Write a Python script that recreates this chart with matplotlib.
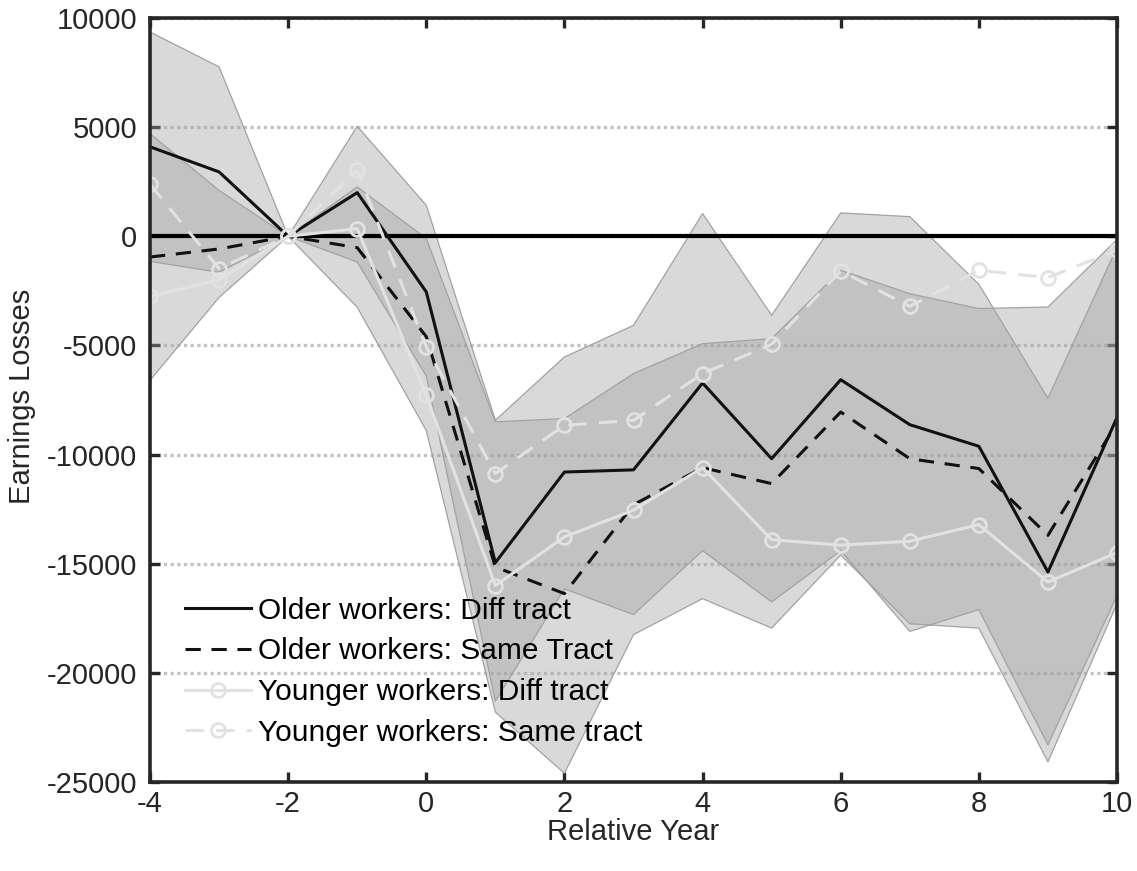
import matplotlib
matplotlib.use("Agg")
import matplotlib.pyplot as plt
import numpy as np

plt.rcParams['font.family'] = ['Liberation Sans', 'DejaVu Sans']

years = [-4, -3, -2, -1, 0, 1, 2, 3, 4, 5, 6, 7, 8, 9, 10]

older_diff = [4100, 2950, 0, 2000, -2550, -14950, -10800, -10700, -6720,
              -10190, -6570, -8630, -9620, -15380, -8300]
older_same = [-950, -580, 0, -520, -4600, -15150, -16370, -12300, -10600,
              -11330, -8050, -10190, -10640, -13700, -8550]
younger_diff = [-2750, -2000, 0, 350, -7280, -16000, -13770, -12550, -10600,
                -13900, -14150, -13970, -13210, -15840, -14490]
younger_same = [2380, -1480, 0, 3020, -5070, -10870, -8660, -8430, -6290,
                -4950, -1590, -3210, -1560, -1890, -640]

# confidence bands
older_diff_hi = [9360, 7760, 0, 5040, 1420, -8430, -5530, -4080, 1040,
                 -3620, 1070, 900, -2200, -7420, -500]
older_diff_lo = [-1150, -1650, 0, -1180, -6400, -21300, -16150, -17330, -14400,
                 -16750, -14400, -18100, -17100, -23300, -16450]
older_same_hi = [4700, 2100, 0, 2260, -100, -8500, -8350, -6290, -4920,
                 -4690, -1560, -2630, -3310, -3240, -150]
older_same_lo = [-6600, -2800, 0, -3250, -8900, -21800, -24600, -18250, -16600,
                 -17950, -14600, -17750, -17950, -24080, -16830]

labels = ["Older workers: Diff tract", "Older workers: Same Tract",
          "Younger workers: Diff tract", "Younger workers: Same tract"]
x_ticks = [-4, -2, 0, 2, 4, 6, 8, 10]
y_ticks = [-25000, -20000, -15000, -10000, -5000, 0, 5000, 10000]

ink = '#262626'
fig = plt.figure(figsize=(11.37, 8.71), dpi=100)
ax = fig.add_axes([150 / 1137, 1 - 782 / 871, 967 / 1137, 764 / 871])

# bands: translucent gray, darker where they overlap
for lo, hi in [(older_diff_lo, older_diff_hi), (older_same_lo, older_same_hi)]:
    ax.fill_between(years, lo, hi, facecolor='#a0a0a0', alpha=0.40,
                    edgecolor='none', zorder=1)
    ax.plot(years, lo, color='#a2a2a2', lw=0.9, zorder=1.5)
    ax.plot(years, hi, color='#a2a2a2', lw=0.9, zorder=1.5)

ax.axhline(0, color='black', lw=3.0, zorder=2)

young_col = '#e2e2e2'
ax.plot(years, older_diff, color='#111111', lw=2.2, label=labels[0], zorder=3)
ax.plot(years, older_same, color='#111111', lw=2.2, dashes=(5, 3.5),
        label=labels[1], zorder=3)
ax.plot(years, younger_diff, color=young_col, lw=2.2, marker='o', ms=10,
        mfc='none', mec=young_col, mew=2.0, label=labels[2], zorder=4)
ax.plot(years, younger_same, color=young_col, lw=2.2, dashes=(6, 4),
        marker='o', ms=10, mfc='none', mec=young_col, mew=2.0,
        label=labels[3], zorder=4)

ax.set_xlim(-4, 10)
ax.set_ylim(-25000, 10000)
ax.set_xticks(x_ticks)
ax.set_yticks(y_ticks)
ax.set_xticklabels([str(v) for v in x_ticks])
ax.set_yticklabels([str(v) for v in y_ticks])

ax.yaxis.grid(True, color='#c4c4c4', lw=2.4, linestyle=(0, (1.0, 1.0)), zorder=0)
ax.set_axisbelow(True)

for s in ax.spines.values():
    s.set_linewidth(2.6)
    s.set_color(ink)
    s.set_zorder(6)
ax.tick_params(direction='in', length=7, width=2.4, color=ink,
               top=True, right=True, labelsize=21, labelcolor=ink)
ax.tick_params(axis='x', pad=6)
ax.tick_params(axis='y', pad=9)

ax.set_xlabel('Relative Year', fontsize=21, color=ink)
ax.set_ylabel('Earnings Losses', fontsize=21, color=ink)
ax.xaxis.set_label_coords(0.5, -0.047)
ax.yaxis.set_label_coords(-0.118, 0.505)

leg = ax.legend(loc='lower left', bbox_to_anchor=(0.018, 0.023), frameon=False,
                fontsize=21.5, handlelength=2.2, handletextpad=0.25,
                labelspacing=0.42, borderaxespad=0.2, numpoints=1)
leg.set_zorder(5)

fig.savefig('out.png', dpi=100)
